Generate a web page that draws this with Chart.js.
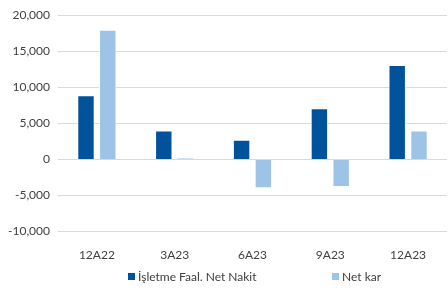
<!DOCTYPE html>
<html>
<head>
<meta charset="utf-8">
<script src="https://cdn.jsdelivr.net/npm/chart.js@4"></script>
<style>
  html, body { margin: 0; padding: 0; background: #fff; }
  #wrap { position: relative; width: 448px; height: 290px; }
  #legend {
    position: absolute; left: 0; top: 269px; width: 448px;
    font: 12px Lato, sans-serif; color: #404040;
  }
  .item { position: absolute; top: 0; white-space: nowrap; }
  .box { display: inline-block; width: 7px; height: 7px; margin-right: 3px; vertical-align: 1px; }
</style>
</head>
<body>
<div id="wrap">
  <canvas id="barChart" width="448" height="290"></canvas>
  <div id="legend"></div>
</div>
<script>
// Data

const periods = ['12A22', '3A23', '6A23', '9A23', '12A23'];
const operatingCash = [8900, 4000, 2750, 7100, 13100];
const netProfit = [18000, 200, -4000, -3800, 4000];

const seriesNames = ['İşletme Faal. Net Nakit', 'Net kar'];
const seriesColors = ['#00539b', '#9dc3e6'];

// Chart

const barChart = document.getElementById('barChart');
const fontFamily = 'Lato, sans-serif';

const myBarChart = new Chart(barChart, {
    type: 'bar',
    data: {
        labels: periods,
        datasets: [
            {
              label: seriesNames[0],
              data: operatingCash,
              backgroundColor: seriesColors[0],
              borderColor: '#ffffff',
              borderWidth: 1,
            },
            {
              label: seriesNames[1],
              data: netProfit,
              backgroundColor: seriesColors[1],
              borderColor: '#ffffff',
              borderWidth: 1,
            },
        ],
    },

    options: {
      responsive: false,
      animation: false,
      categoryPercentage: 0.56,
      barPercentage: 0.8,
      layout: { padding: { top: 2, right: 1, bottom: 20, left: 0 } },
      plugins: {
        legend: { display: false },
        tooltip: { enabled: false },
      },
      scales: {
        x: {
          grid: { display: false },
          border: { display: false },
          ticks: { color: '#404040', padding: 8, font: { family: fontFamily, size: 12 } },
        },
        y: {
          min: -10000,
          max: 20000,
          grid: { color: '#d9d9d9', drawTicks: false },
          border: { display: false },
          ticks: {
            stepSize: 5000,
            padding: 8,
            color: '#404040',
            font: { family: fontFamily, size: 12 },
            callback: value => value.toLocaleString('en-US'),
          },
        },
      },
    }
});

// Legend

const legend = document.getElementById('legend');
const legendLeft = [128, 332];

seriesNames.forEach((name, i) => {
  const item = document.createElement('span');
  item.className = 'item';
  item.style.left = legendLeft[i] + 'px';
  item.innerHTML = '<span class="box" style="background:' + seriesColors[i] + '"></span>' + name;
  legend.appendChild(item);
});
</script>
</body>
</html>
